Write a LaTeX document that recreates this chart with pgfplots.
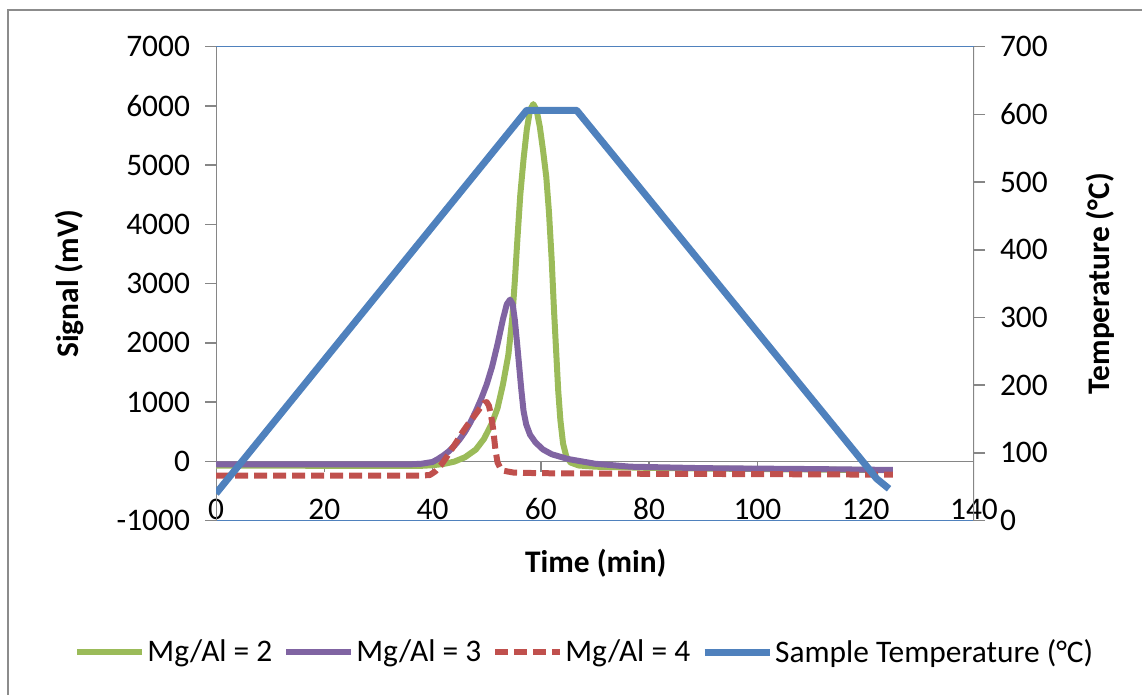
\documentclass[border=0pt]{standalone}
\usepackage{fontspec}
\setmainfont{Carlito}
\usepackage{pgfplots}
\pgfplotsset{compat=1.18}
\definecolor{cgreen}{HTML}{9BBB59}
\definecolor{cpurple}{HTML}{8064A2}
\definecolor{cred}{HTML}{C0504D}
\definecolor{cblue}{HTML}{4F81BD}
\definecolor{cgray}{HTML}{868686}
\definecolor{cframe}{HTML}{8C8C8C}
\pgfplotsset{
  common/.style={
    at={(108bp,86.7bp)}, anchor=south west,
    scale only axis, width=379bp, height=237bp,
    xmin=0, xmax=140,
    axis line style={draw=none},
    tick align=outside, major tick length=5.5bp,
    /pgf/number format/assume math mode=true,
    /pgf/number format/1000 sep={},
    tick label style={font=\fontsize{15.7bp}{18bp}\selectfont},
    label style={font=\fontsize{15.7bp}{18bp}\selectfont\bfseries},
  }
}
\begin{document}
\begin{tikzpicture}[x=1bp,y=1bp]
\useasboundingbox (0,0) rectangle (571,347);
\draw[cframe, line width=1bp] (4,-5) -- (4,342) -- (580,342);
\begin{axis}[
  common,
  ymin=-1000, ymax=7000,
  xtick={0,20,...,140},
  xtick style={draw=none},
  xticklabel style={anchor=base, yshift=6bp},
  ytick={-1000,0,...,7000},
  ytick pos=left,
  ytick style={cgray, line width=0.75bp},
  yticklabel style={xshift=-4bp},
  xlabel={Time (min)},
  xlabel style={at={(axis description cs:0.501,-0.0895)}, anchor=center},
  ylabel={Signal (mV)},
  ylabel style={at={(axis description cs:-0.1939,0.5)}, anchor=center},
]
\draw[cblue, line width=0.75bp] (axis cs:0,7000) -- (axis cs:140,7000);
\draw[cblue, line width=0.75bp] (axis cs:0,-1000) -- (axis cs:140,-1000);
\draw[cgray, line width=0.75bp] (axis cs:0,-1000) -- (axis cs:0,7000);
\draw[cgray, line width=0.75bp] (axis cs:140,-1000) -- (axis cs:140,7000);
\draw[cgray, line width=0.75bp] (axis cs:0,0) -- (axis cs:140,0);
\pgfplotsinvokeforeach{20,40,60,80,100,120}{\draw[cgray, line width=0.75bp] (axis cs:#1,0) -- (axis cs:#1,-180);}
\addplot[cgreen, line width=3bp, line join=round] coordinates {
(0,-70) (20,-75) (38,-75) (40,-65) (42,-45) (44,-5) (46,70) (48,200) (49.5,380)
(51,650) (52,900) (53,1300) (54,1800) (54.7,2400) (55.2,3057) (55.7,3800)
(56.2,4500) (56.8,5100) (57.4,5600) (58,5930) (58.6,6030) (59.2,5930)
(59.8,5650) (60.4,5250) (61,4800) (61.5,4200) (62,3400) (62.4,2600)
(62.8,1900) (63.2,1200) (63.6,700) (64.1,300) (64.7,80) (65.5,-20) (67,-70)
(70,-90) (80,-110) (100,-130) (125,-150)};
\addplot[cpurple, line width=3bp, line join=round] coordinates {
(0,-50) (20,-50) (36,-50) (38,-40) (40,-10) (41,40) (42,100) (43,170) (44,260)
(45,370) (46,500) (47,660) (48,850) (49,1060) (50,1300) (51,1600) (52,1980)
(53,2400) (53.7,2650) (54.3,2730) (54.8,2650) (55.2,2380) (55.6,2000)
(56,1600) (56.4,1200) (56.8,850) (57.3,620) (58,450) (59,320) (60.4,200)
(62,120) (65,40) (70,-40) (76.5,-90) (90,-115) (110,-130) (125,-145)};
\addplot[cred, line width=3bp, dash pattern=on 6.5bp off 3bp, line join=round] coordinates {
(0,-240) (20,-240) (38,-240) (39.5,-230) (40.5,-170) (41.5,-70) (42.5,60)
(43.5,200) (44.5,340) (45.5,490) (46.5,620) (47.5,740) (48.3,840) (49,930)
(49.6,990) (50,1000) (50.4,940) (50.8,780) (51.2,540) (51.6,200) (52,-20)
(52.5,-110) (53.2,-160) (55,-190) (60,-200) (80,-210) (100,-215) (125,-225)};
\end{axis}
\begin{axis}[
  common,
  ymin=0, ymax=700,
  hide x axis,
  ytick={0,100,...,700},
  ytick pos=right,
  ytick style={cgray, line width=0.75bp},
  yticklabel style={anchor=west, xshift=4bp},
  ylabel={Temperature (°C)},
  ylabel style={at={(axis description cs:1.1662,0.5)}, anchor=center},
  legend columns=4,
  legend style={at={(axis description cs:0.4866,-0.2773)}, anchor=center,
    draw=none, fill=none, font=\fontsize{15.7bp}{18bp}\selectfont,
    nodes={inner sep=1bp},
    /tikz/every even column/.append style={column sep=4.5bp}},
  legend image code/.code={\draw[#1] (0bp,0bp) -- (32.5bp,0bp);},
]
\addlegendimage{cgreen, line width=3bp}
\addlegendentry{Mg/Al = 2}
\addlegendimage{cpurple, line width=3bp}
\addlegendentry{Mg/Al = 3}
\addlegendimage{cred, line width=3bp, dash pattern=on 6.5bp off 3bp}
\addlegendentry{Mg/Al = 4}
\addplot[cblue, line width=3.5bp, line join=round] coordinates {
(0,40) (57.4,606) (66.6,606) (120.5,77) (122,62) (124.3,47)};
\addlegendentry{Sample Temperature (°C)}
\end{axis}
\end{tikzpicture}
\end{document}
